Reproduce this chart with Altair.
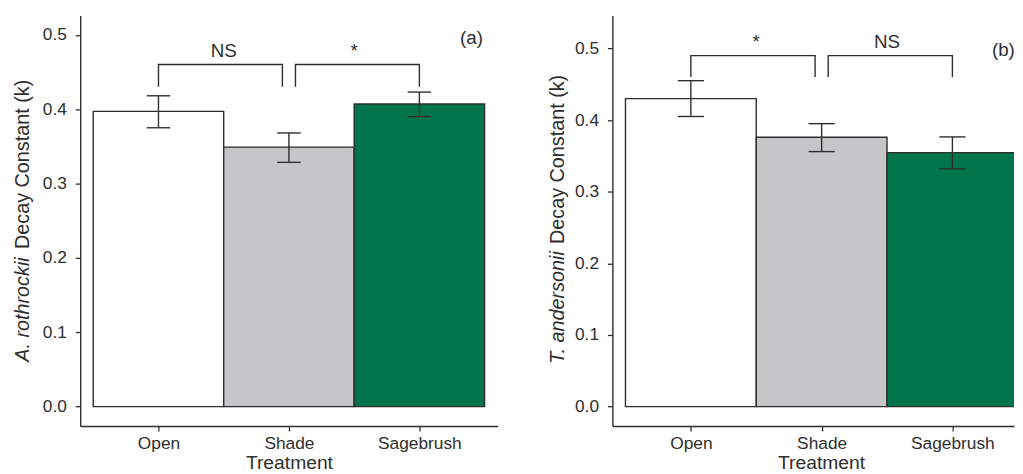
import json
import altair as alt
import pandas as pd

# ---------------- data ----------------
categories = ["Open", "Shade", "Sagebrush"]
fill_colors = ["#FFFFFF", "#C6C6C8", "#00744A"]

a_mean = [0.397, 0.349, 0.407]
a_low = [0.375, 0.3285, 0.390]
a_high = [0.418, 0.368, 0.423]

b_mean = [0.430, 0.376, 0.3545]
b_low = [0.405, 0.356, 0.332]
b_high = [0.455, 0.395, 0.3765]

# significance brackets (category positions 1..3)
a_br_start = [1.0, 2.05]
a_br_end = [1.95, 3.0]
a_br_top = [0.46, 0.46]
a_br_leg = [0.43, 0.43]
a_br_label = ["NS", "*"]
a_lab_x = [1.5, 2.5]
a_lab_y = [0.470, 0.470]

b_br_start = [1.0, 2.05]
b_br_end = [1.95, 3.0]
b_br_top = [0.49, 0.49]
b_br_leg = [0.46, 0.46]
b_br_label = ["*", "NS"]
b_lab_x = [1.5, 2.5]
b_lab_y = [0.50, 0.50]

y_ticks = [0.0, 0.1, 0.2, 0.3, 0.4, 0.5]

INK = "#2e2e2e"
TXT = "#2e2e2e"
FONT = "Liberation Sans"


def panel(mean, low, high, br_start, br_end, br_top, br_leg, br_label, lab_x, lab_y,
          x_domain, y_domain, width, species, title_x, italic_start, plain_end,
          tag, tag_x, tag_y, cap):
    df = pd.DataFrame({
        "cat": categories,
        "pos": list(range(1, len(categories) + 1)),
        "mean": mean,
        "low": low,
        "high": high,
    })
    xs = alt.Scale(domain=x_domain, nice=False, zero=False)
    ys = alt.Scale(domain=y_domain, nice=False, zero=False)
    label_expr = json.dumps(categories) + "[datum.value - 1]"
    xaxis = alt.Axis(values=[1, 2, 3], labelExpr=label_expr, title="Treatment",
                     titleFontSize=19.5, titleFontWeight="normal", titleColor=TXT,
                     titleX=211, titleY=43, titleBaseline="alphabetic", titleAlign="center",
                     labelFontSize=17.5, labelColor=TXT, labelPadding=4,
                     tickSize=5, tickColor=INK, tickWidth=1.3,
                     domainColor=INK, domainWidth=1.4, grid=False, labelAngle=0)
    yaxis = alt.Axis(values=y_ticks, format=".1f", title=None,
                     labelFontSize=17.5, labelColor=TXT, labelPadding=9,
                     tickSize=5, tickColor=INK, tickWidth=1.3,
                     domainColor=INK, domainWidth=1.4, grid=False)

    base = alt.Chart(df)
    bars = base.transform_calculate(
        x1="datum.pos - 0.5", x2="datum.pos + 0.5"
    ).mark_bar(stroke=INK, strokeWidth=1.4, clip=True).encode(
        x=alt.X("x1:Q", scale=xs, axis=xaxis),
        x2="x2:Q",
        y=alt.Y("mean:Q", scale=ys, axis=yaxis),
        y2=alt.datum(0),
        color=alt.Color("cat:N", scale=alt.Scale(domain=categories, range=fill_colors), legend=None),
    )
    err = base.mark_rule(color=INK, strokeWidth=1.4).encode(
        x="pos:Q", y="low:Q", y2="high:Q")
    caps_c = base.transform_calculate(cl=f"datum.pos - {cap}", cr=f"datum.pos + {cap}")
    cap_lo = caps_c.mark_rule(color=INK, strokeWidth=1.4).encode(x="cl:Q", x2="cr:Q", y="low:Q")
    cap_hi = caps_c.mark_rule(color=INK, strokeWidth=1.4).encode(x="cl:Q", x2="cr:Q", y="high:Q")

    rows = []
    for i in range(len(br_start)):
        pts = [(br_start[i], br_leg[i]), (br_start[i], br_top[i]),
               (br_end[i], br_top[i]), (br_end[i], br_leg[i])]
        for k, (px, py) in enumerate(pts):
            rows.append({"bid": i, "ord": k, "bx": px, "by": py})
    bdf = pd.DataFrame(rows)
    brackets = alt.Chart(bdf).mark_line(color=INK, strokeWidth=1.4).encode(
        x="bx:Q", y="by:Q", detail="bid:N", order="ord:Q")

    ldf = pd.DataFrame({"lx": lab_x, "ly": lab_y, "lt": br_label})
    labels = alt.Chart(ldf).mark_text(fontSize=19, color=TXT, baseline="alphabetic", font=FONT).encode(
        x="lx:Q", y="ly:Q", text="lt:N")

    one = alt.Chart(pd.DataFrame({"t": [0]}))
    tag_t = one.mark_text(fontSize=19, color=TXT, baseline="alphabetic", font=FONT).encode(
        x=alt.datum(tag_x), y=alt.datum(tag_y), text=alt.value(tag))
    t_it = one.mark_text(fontSize=20, color=TXT, angle=270, align="left", baseline="alphabetic",
                         fontStyle="italic", font=FONT).encode(
        x=alt.value(title_x), y=alt.value(italic_start), text=alt.value(species))
    t_pl = one.mark_text(fontSize=20, color=TXT, angle=270, align="right", baseline="alphabetic",
                         font=FONT).encode(
        x=alt.value(title_x), y=alt.value(plain_end), text=alt.value("Decay Constant (k)"))

    return alt.layer(bars, err, cap_lo, cap_hi, brackets, labels, tag_t, t_it, t_pl).properties(
        width=width, height=415)


left = panel(a_mean, a_low, a_high, a_br_start, a_br_end, a_br_top, a_br_leg, a_br_label,
             a_lab_x, a_lab_y, [0.4, 3.6], [-0.026, 0.526], 422, "A. rothrockii",
             -52, 350, 65, "(a)", 3.40, 0.488, 0.09)
right = panel(b_mean, b_low, b_high, b_br_start, b_br_end, b_br_top, b_br_leg, b_br_label,
              b_lab_x, b_lab_y, [0.4, 0.4 + 406 / 132.2], [-0.027, 0.546], 406, "T. andersonii",
              -48.5, 352, 60, "(b)", 3.39, 0.489, 0.10)

chart = alt.hconcat(left, right, spacing=51).properties(
    padding={"left": 5, "top": 5, "right": 0, "bottom": 0}
).configure_view(stroke=None).configure_axis(
    labelFont=FONT, titleFont=FONT
).configure_text(font=FONT)

chart.save("out.html", embed_options={"renderer": "svg", "actions": False})
